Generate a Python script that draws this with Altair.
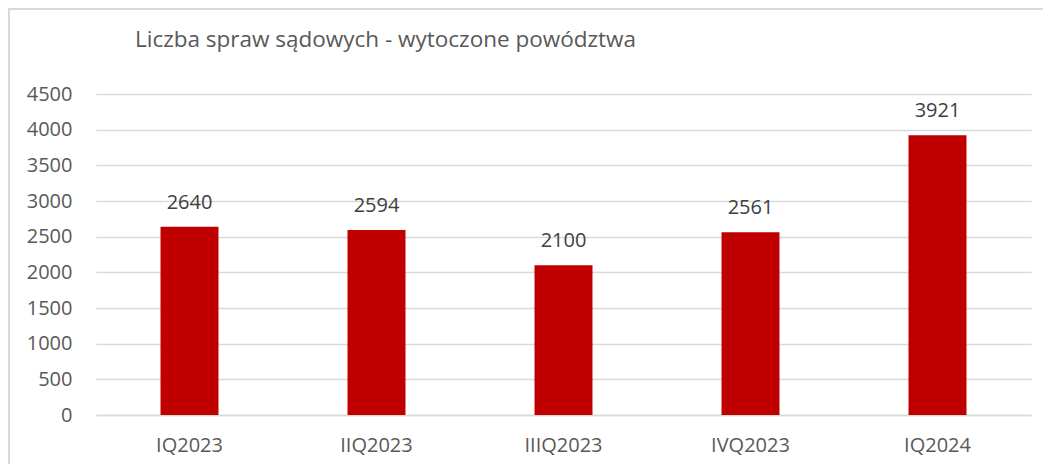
import altair as alt
import pandas as pd

categories = ["IQ2023", "IIQ2023", "IIIQ2023", "IVQ2023", "IQ2024"]
values = [2640, 2594, 2100, 2561, 3921]
title_text = "Liczba spraw sądowych - wytoczone powództwa"

df = pd.DataFrame({"kwartal": categories, "liczba": values})

FONT = "Open Sans"
W, H = 935, 321

x_enc = alt.X("kwartal:N", sort=categories, title=None,
              scale=alt.Scale(paddingInner=0.69, paddingOuter=0.345),
              axis=alt.Axis(labelAngle=0, labelFont=FONT, labelFontSize=20,
                            labelColor="#595959", labelPadding=20, ticks=False,
                            domainColor="#D9D9D9", domainWidth=1.3, grid=False))
y_enc = alt.Y("liczba:Q", title=None,
              scale=alt.Scale(domain=[0, 4500]),
              axis=alt.Axis(values=list(range(0, 4501, 500)), format="d",
                            labelOverlap=False, labelFont=FONT,
                            labelFontSize=20, labelColor="#595959",
                            labelPadding=24, ticks=False, domain=False,
                            gridColor="#D9D9D9", gridWidth=1.3))

base = alt.Chart(df).encode(x=x_enc, y=y_enc)

bars = base.mark_bar(color="#C00000")

labels = base.mark_text(font=FONT, fontSize=20, color="#404040",
                        baseline="bottom", dy=-14).encode(
    text=alt.Text("liczba:Q", format="d"),
)

border_left = alt.Chart(alt.Data(values=[{}])).mark_rule(
    stroke="#D9D9D9", strokeWidth=2
).encode(x=alt.value(-87), y=alt.value(-85), y2=alt.value(H + 60))

border_top = alt.Chart(alt.Data(values=[{}])).mark_rule(
    stroke="#D9D9D9", strokeWidth=2
).encode(x=alt.value(-88), x2=alt.value(W + 12), y=alt.value(-85))

title = alt.Chart(alt.Data(values=[{"t": title_text}])).mark_text(
    font=FONT, fontSize=22.5, color="#595959", align="left", baseline="middle"
).encode(x=alt.value(39), y=alt.value(-54), text="t:N")

chart = alt.layer(border_left, border_top, bars, labels, title).properties(
    width=W, height=H,
    background="white",
    autosize=alt.AutoSizeParams(type="none"),
    padding={"left": 88, "top": 86, "right": 12, "bottom": 49},
).configure_view(strokeWidth=0, stroke="transparent")

chart.save("out.html", embed_options={"renderer": "svg", "actions": False})
